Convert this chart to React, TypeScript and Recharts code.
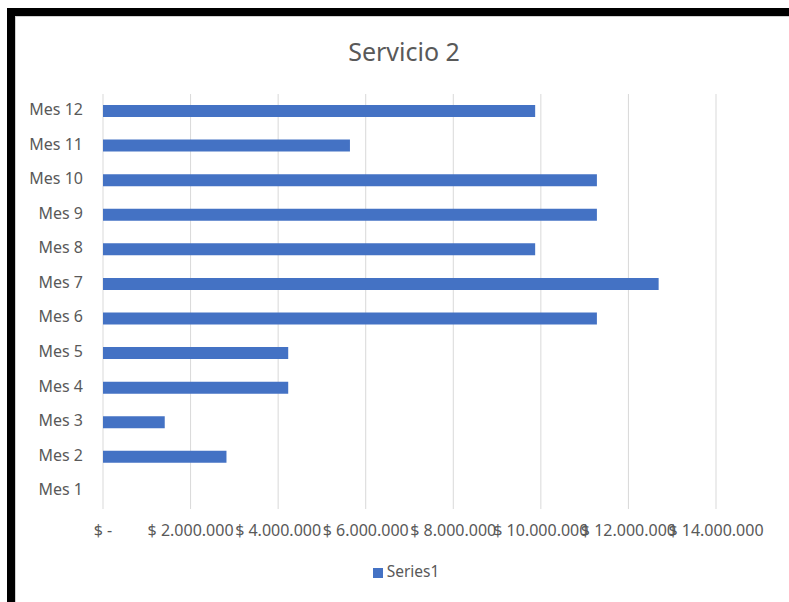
import React from 'react';
import { BarChart, Bar, XAxis, YAxis, CartesianGrid, Legend } from 'recharts';

const title = 'Servicio 2';
const seriesName = 'Series1';
const months = ['Mes 1', 'Mes 2', 'Mes 3', 'Mes 4', 'Mes 5', 'Mes 6', 'Mes 7', 'Mes 8', 'Mes 9', 'Mes 10', 'Mes 11', 'Mes 12'];
const series1 = [0, 2820000, 1410000, 4230000, 4230000, 11280000, 12690000, 9870000, 11280000, 11280000, 5640000, 9870000];
const xTicks = [0, 2000000, 4000000, 6000000, 8000000, 10000000, 12000000, 14000000];

const data = months.map((m, i) => ({ month: m, value: series1[i] }));

const fmt = (v: number) =>
  v === 0 ? '$ -' : '$ ' + String(v).replace(/\B(?=(\d{3})+(?!\d))/g, '.');

const TEXT = '#595959';
const FONT = '"Noto Sans", "Open Sans", sans-serif';

export default function App() {
  return (
    <div
      style={{
        position: 'absolute',
        left: 7,
        top: 8,
        width: 782,
        height: 594,
        boxSizing: 'border-box',
        borderTop: '8px solid #000',
        borderLeft: '8px solid #000',
        background: '#fff',
        fontFamily: FONT,
      }}
    >
      <div
        style={{
          position: 'absolute',
          left: 0,
          top: 0,
          width: 774,
          height: 586,
          boxSizing: 'border-box',
          borderTop: '1px solid #d0d0d0',
          borderLeft: '1px solid #d0d0d0',
        }}
      />
      <div
        style={{
          position: 'absolute',
          left: 0,
          top: 23,
          width: 778,
          textAlign: 'center',
          fontSize: 25,
          lineHeight: '25px',
          color: TEXT,
        }}
      >
        {title}
      </div>
      <div style={{ position: 'absolute', left: 0, top: 0 }}>
        <BarChart
          width={774}
          height={586}
          data={data}
          layout="vertical"
          margin={{ top: 78, right: 73, bottom: 63, left: 0 }}
        >
          <CartesianGrid horizontal={false} stroke="#d9d9d9" />
          <XAxis
            type="number"
            domain={[0, 14000000]}
            ticks={xTicks}
            interval={0}
            axisLine={false}
            tickLine={false}
            tickSize={0}
            tickMargin={16}
            height={30}
            tickFormatter={fmt}
            tick={{ fill: TEXT, fontSize: 16 }}
          />
          <YAxis
            type="category"
            dataKey="month"
            reversed
            interval={0}
            width={88}
            axisLine={false}
            tickLine={false}
            tickSize={0}
            tickMargin={20}
            tick={{ fill: TEXT, fontSize: 16, dy: -2 }}
          />
          <Legend
            verticalAlign="middle"
            align="center"
            layout="horizontal"
            iconType="square"
            iconSize={10}
            wrapperStyle={{ top: 544, left: 0, width: 792 }}
            formatter={(v: string) => <span style={{ color: TEXT, fontSize: 15.5 }}>{v}</span>}
          />
          <Bar dataKey="value" name={seriesName} fill="#4472C4" barSize={12} isAnimationActive={false} />
        </BarChart>
      </div>
    </div>
  );
}
